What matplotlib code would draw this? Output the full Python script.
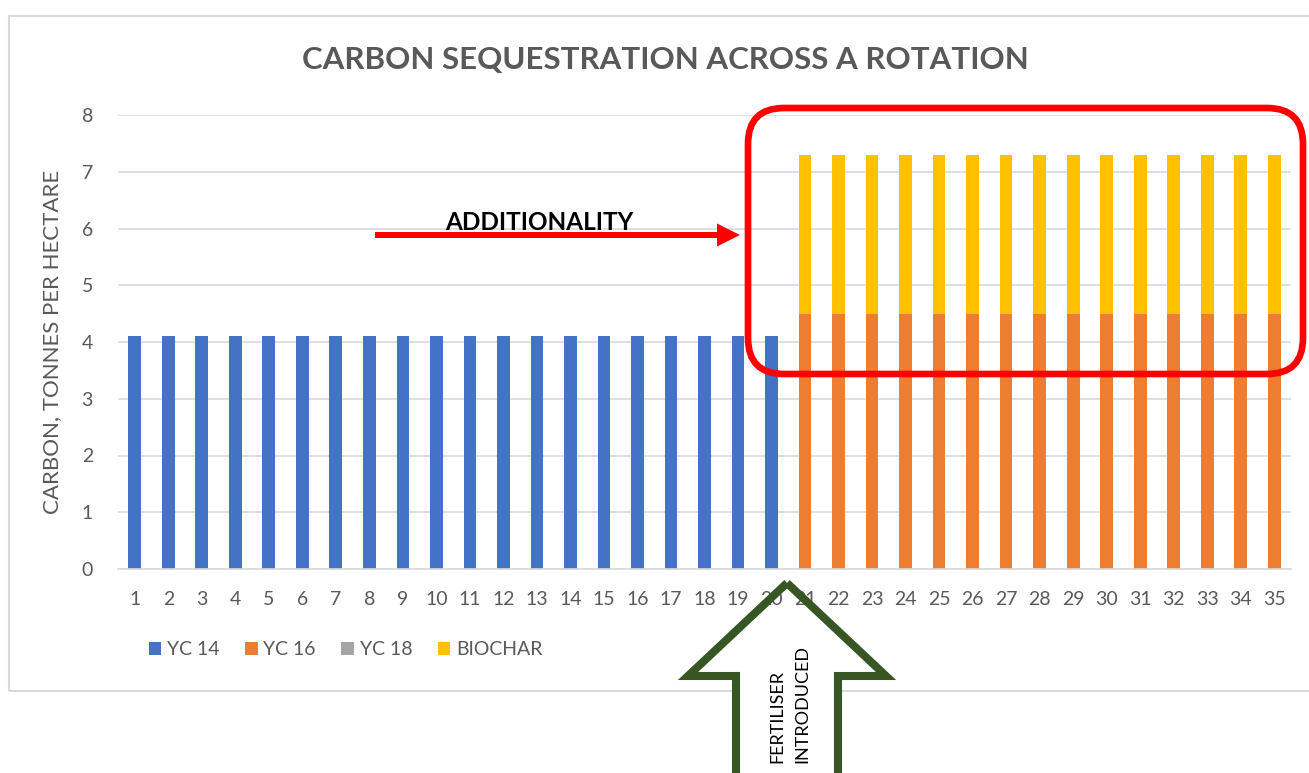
import matplotlib
matplotlib.use('Agg')
import matplotlib.pyplot as plt
from matplotlib.patches import Rectangle, FancyBboxPatch, FancyArrow, Polygon
import numpy as np

plt.rcParams['font.family'] = ['Lato', 'DejaVu Sans']

# data
years = [str(i) for i in range(1, 36)]
yc14 = [4.1, 4.1, 4.1, 4.1, 4.1, 4.1, 4.1, 4.1, 4.1, 4.1,
        4.1, 4.1, 4.1, 4.1, 4.1, 4.1, 4.1, 4.1, 4.1, 4.1,
        0, 0, 0, 0, 0, 0, 0, 0, 0, 0, 0, 0, 0, 0, 0]
yc16 = [0, 0, 0, 0, 0, 0, 0, 0, 0, 0, 0, 0, 0, 0, 0, 0, 0, 0, 0, 0,
        4.5, 4.5, 4.5, 4.5, 4.5, 4.5, 4.5, 4.5, 4.5, 4.5,
        4.5, 4.5, 4.5, 4.5, 4.5]
yc18 = [0, 0, 0, 0, 0, 0, 0, 0, 0, 0, 0, 0, 0, 0, 0, 0, 0, 0, 0, 0,
        0, 0, 0, 0, 0, 0, 0, 0, 0, 0, 0, 0, 0, 0, 0]
biochar = [0, 0, 0, 0, 0, 0, 0, 0, 0, 0, 0, 0, 0, 0, 0, 0, 0, 0, 0, 0,
           2.8, 2.8, 2.8, 2.8, 2.8, 2.8, 2.8, 2.8, 2.8, 2.8,
           2.8, 2.8, 2.8, 2.8, 2.8]
series_names = ['YC 14', 'YC 16', 'YC 18', 'BIOCHAR']
colors = ['#4472C4', '#ED7D31', '#A5A5A5', '#FFC000']

W, H = 1309, 773
fig = plt.figure(figsize=(W / 100, H / 100), dpi=100)
ax = fig.add_axes([118 / W, 1 - 569 / H, 1173 / W, 454 / H])
ax.set_facecolor('none')

x = np.arange(len(years))
bottom = np.zeros(len(years))
for vals, name, col in zip([yc14, yc16, yc18, biochar], series_names, colors):
    ax.bar(x, vals, 0.38, bottom=bottom, color=col, label=name, zorder=2)
    bottom = bottom + np.array(vals)

ax.set_xlim(-0.5, len(years) - 0.5)
ax.set_ylim(0, 8)
ax.set_xticks(x)
ax.set_xticklabels(years)
ax.set_yticks(range(0, 9))
ax.tick_params(length=0, labelsize=14, colors='#595959')
ax.tick_params(axis='x', pad=16)
ax.tick_params(axis='y', pad=18)
ax.grid(axis='y', color='#D9D9D9', lw=1.2, zorder=0)
for s in ['top', 'right', 'left']:
    ax.spines[s].set_visible(False)
ax.spines['bottom'].set_color('#D9D9D9')
ax.spines['bottom'].set_linewidth(1.2)

ax.set_ylabel('CARBON, TONNES PER HECTARE', fontsize=16, color='#595959')
ax.yaxis.set_label_coords(-0.048, 0.5)

ax.legend(loc='center', bbox_to_anchor=(0.194, -0.178), ncol=4, frameon=False,
          fontsize=14, handlelength=0.65, handleheight=0.65, handletextpad=0.3,
          columnspacing=1.3, labelcolor='#595959')

fig.text(665 / W, 1 - 60 / H, 'CARBON SEQUESTRATION ACROSS A ROTATION',
         ha='center', va='center', fontsize=22.5, fontweight='bold', color='#595959')

# chart frame
t = fig.dpi_scale_trans
def px(xp, yp):
    return (xp / 100, (H - yp) / 100)

fig.patches.append(Rectangle(px(9, 691), 13.4, (691 - 16) / 100, transform=t,
                             fill=False, ec='#D9D9D9', lw=1.5, zorder=-2))

# red rounded box
fig.patches.append(FancyBboxPatch(px(748, 374), (1303 - 748) / 100, (374 - 108) / 100,
                                  boxstyle='round,pad=0,rounding_size=0.36',
                                  transform=t, fill=False, ec='#FF0000', lw=4.8, zorder=3))

# red arrow + label
fig.patches.append(FancyArrow(3.75, (H - 235) / 100, 3.65, 0, width=0.06,
                              head_width=0.23, head_length=0.23,
                              length_includes_head=True, transform=t,
                              color='#FF0000', lw=0, zorder=3))
fig.text(539 / W, 1 - 230 / H, 'ADDITIONALITY', ha='center', va='baseline',
         fontsize=17.5, fontweight='bold', color='black')

# green hollow arrow
pts = [px(787, 583), px(886, 676), px(838, 676), px(838, 800),
       px(736, 800), px(736, 676), px(688, 676)]
fig.patches.append(Polygon(pts, closed=True, transform=t, fc='white', ec='none', zorder=-1))
fig.patches.append(Polygon(pts, closed=True, transform=t, fill=False, ec='#375623',
                           lw=5.8, joinstyle='miter', zorder=3))
fig.text(790 / W, 1 - 763 / H, 'FERTILISER\nINTRODUCED', rotation=90,
         ha='center', va='bottom', multialignment='left', linespacing=1.7,
         fontsize=13, color='black', zorder=4)

fig.savefig('out.png', dpi=100)
